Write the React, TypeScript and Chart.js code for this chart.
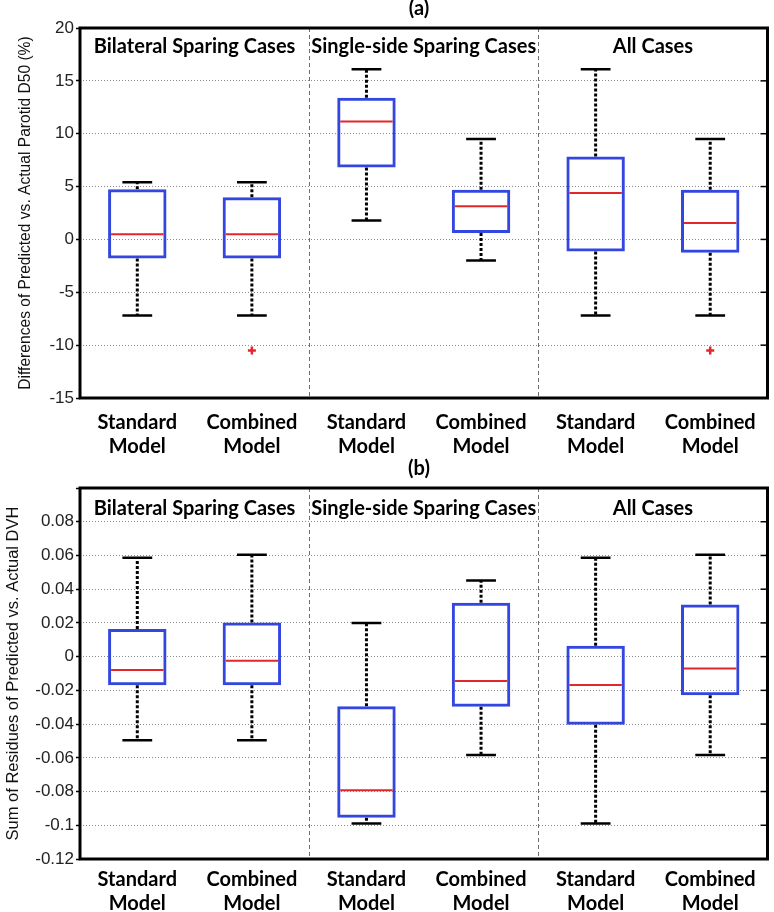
import React, { useEffect, useRef } from "react";
import { Chart, registerables } from "chart.js";
Chart.register(...registerables);

// ---------- shared categories ----------
const categories = [
  ["Standard", "Model"],
  ["Combined", "Model"],
  ["Standard", "Model"],
  ["Combined", "Model"],
  ["Standard", "Model"],
  ["Combined", "Model"],
];
const groupLabels = ["Bilateral Sparing Cases", "Single-side Sparing Cases", "All Cases"];

// ---------- panel (a) ----------
const aLow = [-7.2, -7.2, 1.8, -2.0, -7.2, -7.2];
const aQ1 = [-1.8, -1.8, 6.8, 0.6, -1.15, -1.25];
const aMedian = [0.5, 0.5, 11.15, 3.15, 4.4, 1.55];
const aQ3 = [4.75, 4.0, 13.4, 4.7, 7.85, 4.7];
const aHigh = [5.4, 5.4, 16.1, 9.5, 16.1, 9.5];
const aOutliers = [null, -10.5, null, null, null, -10.5];
const aYMin = -15;
const aYMax = 20;
const aYStep = 5;

// ---------- panel (b) ----------
const bLow = [-0.0496, -0.0496, -0.0989, -0.0583, -0.0989, -0.0583];
const bQ1 = [-0.017, -0.017, -0.0955, -0.0297, -0.0404, -0.0229];
const bMedian = [-0.0079, -0.0024, -0.0793, -0.0144, -0.0168, -0.0071];
const bQ3 = [0.0164, 0.0202, -0.0294, 0.032, 0.0065, 0.0309];
const bHigh = [0.0587, 0.0604, 0.02, 0.0451, 0.0587, 0.0604];
const bOutliers = [null, null, null, null, null, null];
const bYMin = -0.12;
const bYMax = 0.1;
const bYStep = 0.02;

const BLUE = "#3347e0";
const RED = "#e3262b";
const BOLD_FONT = "Lato, 'Open Sans', sans-serif";
const PLAIN_FONT = "'Liberation Sans', Arial, sans-serif";

const boxPlotPlugin = {
  id: "boxplot",
  beforeDatasetsDraw(chart: any, _args: any, opts: any) {
    const { ctx, chartArea: a, scales } = chart;
    const x = scales.x;
    const y = scales.y;
    ctx.save();
    // group separators
    ctx.strokeStyle = "#6f6f6f";
    ctx.lineWidth = 1;
    ctx.setLineDash([4, 3]);
    for (const b of [2, 4]) {
      const px = Math.round((x.getPixelForValue(b - 1) + x.getPixelForValue(b)) / 2) + 0.5;
      ctx.beginPath();
      ctx.moveTo(px, a.top);
      ctx.lineTo(px, a.bottom);
      ctx.stroke();
    }
    // whiskers
    const step = x.getPixelForValue(1) - x.getPixelForValue(0);
    const capHalf = step * 0.13;
    for (let i = 0; i < opts.low.length; i++) {
      const cx = x.getPixelForValue(i);
      ctx.strokeStyle = "#000";
      ctx.lineWidth = 3;
      ctx.setLineDash([3, 2]);
      ctx.beginPath();
      ctx.moveTo(cx, y.getPixelForValue(opts.q3[i]));
      ctx.lineTo(cx, y.getPixelForValue(opts.high[i]));
      ctx.moveTo(cx, y.getPixelForValue(opts.q1[i]));
      ctx.lineTo(cx, y.getPixelForValue(opts.low[i]));
      ctx.stroke();
      ctx.setLineDash([]);
      ctx.lineWidth = 2.5;
      ctx.beginPath();
      const hy = y.getPixelForValue(opts.high[i]);
      const ly = y.getPixelForValue(opts.low[i]);
      ctx.moveTo(cx - capHalf, hy);
      ctx.lineTo(cx + capHalf, hy);
      ctx.moveTo(cx - capHalf, ly);
      ctx.lineTo(cx + capHalf, ly);
      ctx.stroke();
    }
    ctx.restore();
  },
  afterDatasetsDraw(chart: any, _args: any, opts: any) {
    const { ctx, chartArea: a, scales } = chart;
    const x = scales.x;
    const y = scales.y;
    const step = x.getPixelForValue(1) - x.getPixelForValue(0);
    const boxHalf = step * 0.255;
    ctx.save();
    // medians
    ctx.strokeStyle = RED;
    ctx.lineWidth = 2;
    for (let i = 0; i < opts.median.length; i++) {
      const cx = x.getPixelForValue(i);
      const my = y.getPixelForValue(opts.median[i]);
      ctx.beginPath();
      ctx.moveTo(cx - boxHalf + 3, my);
      ctx.lineTo(cx + boxHalf - 3, my);
      ctx.stroke();
    }
    // frame
    ctx.strokeStyle = "#000";
    ctx.lineWidth = 3;
    ctx.strokeRect(a.left, a.top, a.right - a.left, a.bottom - a.top);
    // inner ticks on right side
    ctx.lineWidth = 1.5;
    for (const t of y.ticks) {
      const py = y.getPixelForValue(t.value);
      if (py <= a.top + 2 || py >= a.bottom - 2) continue;
      ctx.beginPath();
      ctx.moveTo(a.right - 7, py);
      ctx.lineTo(a.right, py);
      ctx.stroke();
    }
    // group labels
    ctx.fillStyle = "#000";
    ctx.font = `bold 20px ${BOLD_FONT}`;
    ctx.textAlign = "center";
    ctx.textBaseline = "alphabetic";
    groupLabels.forEach((lab, g) => {
      const cx = (x.getPixelForValue(2 * g) + x.getPixelForValue(2 * g + 1)) / 2;
      ctx.fillText(lab, cx, a.top + opts.groupBaseline);
    });
    // panel title
    ctx.fillText(opts.panelTitle, 419, opts.panelBaseline);
    // y title
    ctx.font = `${opts.yTitleSize}px ${PLAIN_FONT}`;
    ctx.fillStyle = "#111";
    ctx.translate(opts.yTitleX, (a.top + a.bottom) / 2);
    ctx.rotate(-Math.PI / 2);
    ctx.textBaseline = "middle";
    ctx.fillText(opts.yTitle, 0, 0);
    ctx.restore();
  },
};

function makeConfig(p: any) {
  return {
    type: "bar",
    data: {
      labels: categories,
      datasets: [
        {
          type: "bar",
          data: p.q1.map((v: number, i: number) => [v, p.q3[i]]),
          backgroundColor: "rgba(0,0,0,0)",
          borderColor: BLUE,
          borderWidth: 3,
          borderSkipped: false,
          barPercentage: 0.51,
          categoryPercentage: 1,
        },
        {
          type: "line",
          data: p.outliers,
          showLine: false,
          pointStyle: "cross",
          pointRadius: 4,
          pointBorderWidth: 2.5,
          borderColor: RED,
          backgroundColor: RED,
        },
      ],
    },
    options: {
      animation: false,
      responsive: false,
      maintainAspectRatio: false,
      layout: { padding: { top: p.padTop, right: p.padRight, left: 0, bottom: 0 } },
      plugins: {
        legend: { display: false },
        tooltip: { enabled: false },
        title: { display: false },
        boxplot: {
          low: p.low,
          q1: p.q1,
          median: p.median,
          q3: p.q3,
          high: p.high,
          groupBaseline: p.groupBaseline,
          panelTitle: p.panelTitle,
          panelBaseline: p.panelBaseline,
          yTitle: p.yTitle,
          yTitleX: p.yTitleX,
          yTitleSize: p.yTitleSize,
        },
      },
      scales: {
        x: {
          type: "category",
          offset: true,
          grid: { display: false },
          border: { display: false },
          ticks: {
            color: "#000",
            padding: p.xPad,
            maxRotation: 0,
            autoSkip: false,
            font: { family: BOLD_FONT, size: 20, weight: "bold", lineHeight: 1.22 },
          },
          afterFit: (s: any) => {
            s.height = p.xHeight;
          },
        },
        y: {
          min: p.yMin,
          max: p.yMax,
          grid: {
            color: "#8a8a8a",
            lineWidth: 1,
            tickColor: "#000",
            tickLength: 4,
            tickWidth: 1.5,
          },
          border: { display: false, dash: [1, 2] },
          ticks: {
            stepSize: p.yStep,
            padding: 2,
            color: "#222",
            font: { family: PLAIN_FONT, size: 17 },
            callback: (v: number) => {
              const r = Math.round(v * 1000) / 1000;
              if (p.hideTop && Math.abs(r - p.yMax) < 1e-9) return "";
              return String(r);
            },
          },
          afterFit: (s: any) => {
            s.width = 80;
          },
        },
      },
    },
    plugins: [boxPlotPlugin],
  };
}

const panelA = {
  low: aLow, q1: aQ1, median: aMedian, q3: aQ3, high: aHigh, outliers: aOutliers,
  yMin: aYMin, yMax: aYMax, yStep: aYStep, hideTop: false,
  padTop: 28, padRight: 6, xHeight: 58, xPad: 4,
  groupBaseline: 24.7, panelTitle: "(a)", panelBaseline: 15,
  yTitle: "Differences of Predicted vs. Actual Parotid D50 (%)", yTitleX: 26, yTitleSize: 15.6,
};
const panelB = {
  low: bLow, q1: bQ1, median: bMedian, q3: bQ3, high: bHigh, outliers: bOutliers,
  yMin: bYMin, yMax: bYMax, yStep: bYStep, hideTop: true,
  padTop: 32, padRight: 3, xHeight: 53, xPad: 0,
  groupBaseline: 27.3, panelTitle: "(b)", panelBaseline: 19,
  yTitle: "Sum of Residues of Predicted vs. Actual DVH", yTitleX: 13, yTitleSize: 16.5,
};

function Panel({ spec, top }: { spec: any; top: number }) {
  const ref = useRef<HTMLCanvasElement | null>(null);
  useEffect(() => {
    if (!ref.current) return;
    const chart = new Chart(ref.current, makeConfig(spec) as any);
    return () => chart.destroy();
  }, [spec]);
  return (
    <div style={{ position: "absolute", left: 0, top, width: 774, height: 456 }}>
      <canvas ref={ref} width={774} height={456} style={{ width: 774, height: 456, display: "block" }} />
    </div>
  );
}

export default function App() {
  return (
    <div style={{ position: "absolute", left: 0, top: 0, width: 774, height: 912, background: "#fff" }}>
      <Panel spec={panelA} top={0} />
      <Panel spec={panelB} top={456} />
    </div>
  );
}
